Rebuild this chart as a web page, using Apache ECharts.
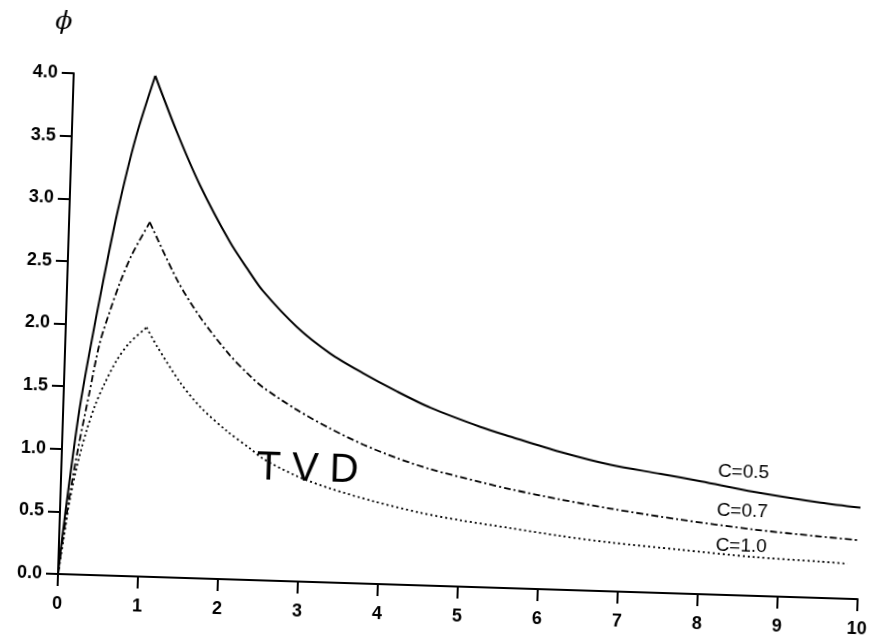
<!DOCTYPE html>
<html>
<head>
<meta charset="utf-8">
<script src="https://cdn.jsdelivr.net/npm/echarts@6/dist/echarts.min.js"></script>
<style>
  html, body { margin: 0; padding: 0; background: #ffffff; overflow: hidden; }
  /* the scanned figure is slightly rotated; rotate the whole chart about its origin */
  #main { width: 872px; height: 640px; transform: rotate(1.8deg); transform-origin: 58px 574px; }
</style>
</head>
<body>
<div id="main"></div>
<script>
// ---- data: [r, phi] ----
const xTicks = [0, 1, 2, 3, 4, 5, 6, 7, 8, 9, 10];
const yTicks = ['0.0', '0.5', '1.0', '1.5', '2.0', '2.5', '3.0', '3.5', '4.0'];

const curveC05 = [
  [0, 0], [0.04, 0.3], [0.1, 0.7], [0.2, 1.3], [0.3, 1.75], [0.45, 2.35], [0.6, 2.9], [0.8, 3.5], [1.02, 4.0],
  [1.31, 3.56], [1.62, 3.14], [2.02, 2.69], [2.25, 2.48], [2.45, 2.31], [2.89, 2.03], [3.31, 1.83], [3.73, 1.68],
  [4.17, 1.54], [4.59, 1.42], [5.22, 1.28], [5.60, 1.21], [6.23, 1.10], [6.86, 1.01], [7.49, 0.95],
  [8.0, 0.90], [8.66, 0.83], [9.50, 0.76], [10.0, 0.73]
];
const curveC07 = [
  [0, 0], [0.05, 0.3], [0.12, 0.65], [0.2, 1.0], [0.32, 1.45], [0.43, 1.85], [0.55, 2.12], [0.66, 2.34], [0.8, 2.57], [1.01, 2.83],
  [1.37, 2.38], [1.67, 2.09], [2.06, 1.79], [2.32, 1.63], [2.49, 1.54], [2.92, 1.37], [3.34, 1.23],
  [3.76, 1.11], [4.19, 1.01], [4.61, 0.93], [5.24, 0.84], [5.62, 0.79], [6.25, 0.72], [6.88, 0.66],
  [7.75, 0.59], [8.67, 0.53], [9.51, 0.49], [10.0, 0.47]
];
const curveC10 = [
  [0, 0], [0.06, 0.3], [0.12, 0.6], [0.2, 0.88], [0.3, 1.15], [0.4, 1.36], [0.5, 1.52], [0.65, 1.72], [0.8, 1.86], [1.01, 1.99],
  [1.15, 1.84], [1.45, 1.56], [1.71, 1.37], [2.06, 1.18], [2.35, 1.05], [2.52, 0.97], [2.95, 0.84],
  [3.37, 0.75], [3.91, 0.66], [4.5, 0.58], [5.00, 0.53], [5.63, 0.48], [6.26, 0.43], [6.89, 0.39], [7.76, 0.35],
  [8.68, 0.31], [9.52, 0.29], [9.86, 0.28]
];
const seriesNames = ['C=0.5', 'C=0.7', 'C=1.0'];
const regionLabel = 'T V D';
const yAxisName = 'ϕ';

// split each curve at its peak so the cusp stays sharp while each branch is drawn smooth
function branches(curve) {
  let k = 0;
  curve.forEach((p, i) => { if (p[1] > curve[k][1]) k = i; });
  return [curve.slice(0, k + 1), curve.slice(k)];
}
const styles = [
  { color: '#000', width: 2, type: 'solid' },
  { color: '#000', width: 1.8, type: [7, 3, 2, 3] },
  { color: '#000', width: 1.8, type: [2, 3] }
];
const series = [];
[curveC05, curveC07, curveC10].forEach((curve, i) => {
  branches(curve).forEach(part => {
    series.push({ name: seriesNames[i], type: 'line', data: part, showSymbol: false,
      smooth: 0.3, lineStyle: styles[i] });
  });
});

const chart = echarts.init(document.getElementById('main'), null, { renderer: 'canvas' });
const tickFont = { fontFamily: 'Liberation Sans, Arial, sans-serif', fontSize: 18, fontWeight: 'bold', color: '#000' };

chart.setOption({
  backgroundColor: '#ffffff',
  animation: false,
  grid: { left: 58, right: 14, top: 73, bottom: 66, containLabel: false },
  xAxis: {
    type: 'value', min: 0, max: 10, interval: 1,
    axisLine: { show: true, lineStyle: { color: '#000', width: 2 } },
    axisTick: { show: true, length: 12, inside: false, lineStyle: { color: '#000', width: 2 } },
    axisLabel: Object.assign({ margin: 21, formatter: v => String(v) }, tickFont),
    splitLine: { show: false }
  },
  yAxis: {
    type: 'value', min: 0, max: 4, interval: 0.5,
    axisLine: { show: true, lineStyle: { color: '#000', width: 2 } },
    axisTick: { show: true, length: 12, inside: false, lineStyle: { color: '#000', width: 2 } },
    axisLabel: Object.assign({ margin: 16, formatter: v => yTicks[Math.round(v * 2)] }, tickFont),
    splitLine: { show: false }
  },
  series: series,
  graphic: [
    { type: 'text', left: 38, top: 10, style: { text: yAxisName, font: 'italic 25px "DejaVu Serif", serif', fill: '#000' } },
    { type: 'text', x: 740, y: 451, style: { text: seriesNames[0], font: '19px "Liberation Sans", Arial, sans-serif', fill: '#000', textAlign: 'center', textVerticalAlign: 'middle' } },
    { type: 'text', x: 740, y: 490, style: { text: seriesNames[1], font: '19px "Liberation Sans", Arial, sans-serif', fill: '#000', textAlign: 'center', textVerticalAlign: 'middle' } },
    { type: 'text', x: 740, y: 525, style: { text: seriesNames[2], font: '19px "Liberation Sans", Arial, sans-serif', fill: '#000', textAlign: 'center', textVerticalAlign: 'middle' } },
    { type: 'text', x: 304, y: 462, style: { text: regionLabel, font: '40px "Liberation Sans", Arial, sans-serif', fill: '#000', textAlign: 'center', textVerticalAlign: 'middle' } }
  ]
});
</script>
</body>
</html>
